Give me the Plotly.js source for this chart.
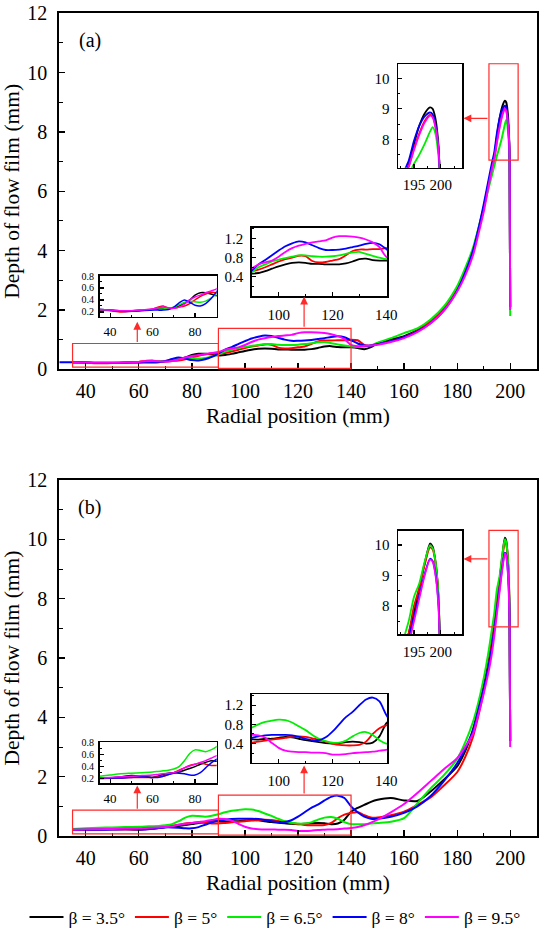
<!DOCTYPE html>
<html>
<head>
<meta charset="utf-8">
<script src="https://cdn.plot.ly/plotly-3.0.1.min.js"></script>
<style>
html,body{margin:0;padding:0;background:#ffffff;}
#chart{width:550px;height:936px;}
</style>
</head>
<body>
<div id="chart"></div>
<script>
// ---------------- DATA ----------------
const radialPosition = [30, 35, 40, 45, 50, 55, 60, 62.5, 65, 67.5, 70, 72.5, 75, 77.5, 80, 82.5, 85, 87.5, 90,
  92.5, 95, 97.5, 100, 102.5, 105, 107.5, 110, 112.5, 115, 117.5, 120, 122.5, 125, 127.5, 130, 132.5, 135, 137.5, 140,
  142.5, 145, 147.5, 150, 155, 160, 165, 170, 175, 180, 183, 186, 188, 190, 192, 193, 194,
  195, 196, 197, 198, 198.5, 199, 199.5, 199.8, 200];

const seriesNames = ['β = 3.5°', 'β = 5°', 'β = 6.5°', 'β = 8°', 'β = 9.5°'];

// Panel (a)
const depthA_b35 = [null, 0.24,0.23,0.22,0.22,0.23,0.24, 0.25,0.26,0.26,0.27,0.30,0.34,0.40,0.48,0.52,0.52,0.50,0.47,
  0.48,0.52,0.57,0.62,0.66,0.69,0.70,0.69,0.67,0.67,0.66,0.66,0.66,0.68,0.72,0.77,0.78,0.75,0.74,0.74,
  0.72,0.68,0.75,0.88, 1.00,1.12,1.32,1.62,2.02,2.68, 3.25,4.00,4.70,5.45,6.35,6.75,7.15,
  7.85,8.45,8.85,9.05, 9.00,8.70,8.00,7.00,2.10];
const depthA_b5 = [null, 0.23,0.22,0.20,0.21,0.23,0.25, 0.28,0.30,0.26,0.26,0.28,0.30,0.34,0.40,0.46,0.50,0.53,0.52,
  0.55,0.60,0.66,0.72,0.77,0.80,0.84,0.83,0.73,0.70,0.71,0.74,0.77,0.85,0.94,0.97,0.97,0.98,0.98,1.00,
  0.98,0.82,0.80,0.85, 0.95,1.08,1.30,1.62,2.05,2.70, 3.25,3.95,4.65,5.40,6.30,6.70,7.10,
  7.70,8.20,8.60,8.80, 8.75,8.45,7.85,6.95,2.10];
const depthA_b65 = [null, 0.24,0.23,0.22,0.22,0.23,0.24, 0.25,0.25,0.26,0.28,0.32,0.36,0.38,0.37,0.36,0.38,0.43,0.50,
  0.60,0.66,0.72,0.76,0.79,0.82,0.85,0.85,0.83,0.82,0.82,0.83,0.85,0.88,0.91,0.92,0.88,0.84,0.80,0.77,
  0.76,0.76,0.80,0.90, 1.05,1.22,1.38,1.68,2.12,2.80, 3.40,4.10,4.75,5.45,6.15,6.50,6.85,
  7.20,7.50,7.85,8.25, 8.40,8.20,7.60,6.80,1.80];
const depthA_b8 = [0.24, 0.24,0.23,0.21,0.21,0.22,0.23, 0.23,0.23,0.24,0.28,0.35,0.40,0.36,0.31,0.30,0.34,0.42,0.53,
  0.66,0.75,0.85,0.95,1.04,1.10,1.14,1.12,1.06,1.00,0.96,0.96,0.97,0.99,1.02,1.05,1.09,1.11,1.08,0.98,
  0.87,0.80,0.80,0.85, 0.95,1.08,1.28,1.55,1.98,2.65, 3.25,4.00,4.72,5.55,6.45,6.90,7.30,
  7.95,8.45,8.75,8.88, 8.82,8.50,7.90,6.95,2.10];
const depthA_b95 = [null, 0.24,0.23,0.22,0.22,0.23,0.25, 0.27,0.28,0.27,0.26,0.28,0.33,0.40,0.45,0.48,0.52,0.55,0.58,
  0.66,0.70,0.74,0.82,0.92,1.00,1.05,1.09,1.12,1.14,1.16,1.22,1.25,1.25,1.24,1.22,1.18,1.12,1.02,0.82,
  0.78,0.79,0.80,0.83, 0.92,1.05,1.25,1.55,1.98,2.62, 3.15,3.85,4.55,5.30,6.25,6.70,7.10,
  7.65,8.15,8.55,8.78, 8.72,8.42,7.85,6.95,2.00];

// Panel (b)
const depthB_b35 = [null, 0.20,0.21,0.23,0.25,0.24,0.22, 0.24,0.27,0.29,0.30,0.31,0.34,0.37,0.40,0.44,0.47,0.50,0.49,
  0.48,0.50,0.50,0.52,0.54,0.53,0.50,0.47,0.45,0.43,0.41,0.40,0.41,0.43,0.44,0.43,0.40,0.42,0.55,0.82,
  0.95,1.05,1.15,1.22, 1.28,1.20,1.18,1.50,1.90,2.35, 2.85,3.60,4.30,5.05,5.95,6.50,7.10,
  7.80,8.60,9.40,10.05, 9.95,9.50,8.60,7.20,3.20];
const depthB_b5 = [null, 0.21,0.21,0.21,0.22,0.22,0.22, 0.23,0.24,0.27,0.30,0.34,0.38,0.42,0.44,0.46,0.44,0.42,0.42,
  0.44,0.46,0.48,0.50,0.52,0.54,0.55,0.54,0.51,0.48,0.44,0.40,0.37,0.36,0.36,0.37,0.44,0.60,0.72,0.78,
  0.80,0.70,0.62,0.62, 0.70,0.82,1.05,1.30,1.70,2.15, 2.65,3.35,4.05,4.85,5.85,6.45,7.10,
  8.00,8.60,9.35,9.92, 9.85,9.45,8.55,7.15,3.20];
const depthB_b65 = [null, 0.24,0.26,0.28,0.29,0.30,0.31, 0.32,0.33,0.34,0.36,0.40,0.50,0.62,0.68,0.67,0.65,0.68,0.73,
  0.80,0.85,0.88,0.90,0.89,0.84,0.76,0.68,0.58,0.50,0.45,0.42,0.42,0.46,0.55,0.62,0.64,0.58,0.47,0.40,
  0.40,0.40,0.42,0.44, 0.48,0.60,1.10,1.60,2.05,2.60, 3.15,3.85,4.50,5.30,6.30,6.90,7.50,
  8.30,8.75,9.45,10.00, 9.90,9.50,8.60,7.20,3.20];
const depthB_b8 = [null, 0.21,0.21,0.21,0.22,0.23,0.22, 0.22,0.24,0.27,0.29,0.29,0.28,0.26,0.26,0.30,0.38,0.46,0.52,
  0.55,0.57,0.58,0.58,0.58,0.57,0.54,0.50,0.47,0.47,0.53,0.65,0.80,0.95,1.06,1.20,1.32,1.36,1.28,1.00,
  0.80,0.65,0.58,0.58, 0.65,0.78,1.00,1.35,1.85,2.45, 2.95,3.55,4.25,4.95,5.80,6.30,6.95,
  7.65,8.35,9.05,9.55, 9.48,9.10,8.30,7.10,3.20];
const depthB_b95 = [null, 0.21,0.22,0.23,0.24,0.25,0.26, 0.27,0.28,0.29,0.30,0.33,0.38,0.41,0.44,0.47,0.50,0.54,0.58,
  0.57,0.52,0.41,0.31,0.25,0.23,0.22,0.22,0.21,0.21,0.20,0.17,0.17,0.18,0.20,0.21,0.22,0.23,0.25,0.27,
  0.30,0.36,0.45,0.55, 0.80,1.08,1.45,1.85,2.25,2.62, 3.00,3.45,4.10,4.80,5.60,6.10,6.75,
  7.50,8.25,9.00,9.52, 9.45,9.05,8.20,7.00,3.00];

// tick labels
const mainXTicks = [40, 60, 80, 100, 120, 140, 160, 180, 200];
const mainYTicks = [0, 2, 4, 6, 8, 10, 12];
const inset1XTicks = [40, 60, 80];
const inset1YTicks = [0.2, 0.4, 0.6, 0.8];
const inset2XTicks = [100, 120, 140];
const inset2YTicks = [0.4, 0.8, 1.2];
const inset3XTicks = [195, 200];
const inset3YTicks = [8, 9, 10];

// ---------------- STYLE / LAYOUT ----------------
const W = 550, H = 936;
const FONT = 'Liberation Serif';
const colors = ['#000000', '#ff0000', '#00ee00', '#0000ff', '#ff00ff'];
const panelA = [depthA_b35, depthA_b5, depthA_b65, depthA_b8, depthA_b95];
const panelB = [depthB_b35, depthB_b5, depthB_b65, depthB_b8, depthB_b95];

function domX(l, r) { return [l / W, r / W]; }
function domY(t, b) { return [1 - b / H, 1 - t / H]; }

const shiftB = 466.7;
const boxes = {
  main: {l: 59.3, r: 536.7, t: 13.3, b: 369.3},
  in1: {l: 99.5, r: 216.7, t: 275.7, b: 316.7},
  in2: {l: 251.8, r: 387, t: 227.5, b: 296},
  in3: {l: 398, r: 462, t: 64, b: 167.7}
};

const traces = [];
const layout = {
  width: W, height: H,
  margin: {l: 0, r: 0, t: 0, b: 0},
  paper_bgcolor: '#ffffff',
  plot_bgcolor: 'rgba(0,0,0,0)',
  font: {family: FONT, color: '#000000', size: 16},
  showlegend: true,
  legend: {
    orientation: 'h', x: 0.5, xanchor: 'center', y: 1 - 917 / H, yanchor: 'middle',
    font: {family: FONT, size: 17.5, color: '#000'}, bgcolor: 'rgba(0,0,0,0)',
    itemwidth: 34, traceorder: 'normal'
  },
  shapes: [], annotations: []
};

function axisBase(extra) {
  return Object.assign({
    showline: true, linecolor: '#000', mirror: true, showgrid: false, zeroline: false,
    ticks: 'inside', tickcolor: '#000', fixedrange: true
  }, extra);
}

function buildPanel(data, axOffset, dy, label, firstPanel) {
  const ids = [axOffset + 1, axOffset + 2, axOffset + 3, axOffset + 4];
  const nm = i => (i === 1 ? '' : String(i));
  const configs = [
    {box: boxes.main, xr: [30, 210], yr: [0, 12], xt: mainXTicks, yt: mainYTicks, xm: 10, ym: 1,
     fs: 20, yfs: 20, lw: 2, tl: 6, ml: 3.5, lwid: 2, xs: 3, ys: 6},
    {box: boxes.in1, xr: [35, 90.2], yr: [0.12, 0.805], xt: inset1XTicks, yt: inset1YTicks, xm: 10, ym: 0.1,
     fs: 13, yfs: 10, lw: 1.5, tl: 4, ml: 2, lwid: 1.5, xs: 2, ys: 2},
    {box: boxes.in2, xr: [90, 140.3], yr: [0, 1.43], xt: inset2XTicks, yt: inset2YTicks, xm: 10, ym: 0.2,
     fs: 15, yfs: 15, lw: 1.8, tl: 4, ml: 2, lwid: 1.5, xs: 4, ys: 4},
    {box: boxes.in3, xr: [192, 204], yr: [7.07, 10.47], xt: inset3XTicks, yt: inset3YTicks, xm: 2.5, ym: 0.5,
     fs: 15, yfs: 15, lw: 1.8, tl: 4, ml: 2, lwid: 1.5, xs: 3, ys: 4}
  ];
  configs.forEach((c, k) => {
    const id = ids[k];
    const b = c.box;
    const xa = axisBase({
      domain: domX(b.l, b.r), range: c.xr, anchor: 'y' + nm(id),
      tickvals: c.xt, ticklen: c.tl, tickwidth: 1.2, linewidth: c.lwid,
      tickfont: {family: FONT, size: c.fs, color: '#000'}, ticklabelstandoff: c.xs,
      minor: {ticks: 'inside', dtick: c.xm, tick0: 0, ticklen: c.ml, tickwidth: 1, tickcolor: '#000', showgrid: false}
    });
    const ya = axisBase({
      domain: domY(b.t + dy, b.b + dy), range: c.yr, anchor: 'x' + nm(id),
      tickvals: c.yt, ticklen: c.tl, tickwidth: 1.2, linewidth: c.lwid,
      tickfont: {family: FONT, size: c.yfs, color: '#000'}, ticklabelstandoff: c.ys,
      minor: {ticks: 'inside', dtick: c.ym, tick0: 0, ticklen: c.ml, tickwidth: 1, tickcolor: '#000', showgrid: false}
    });
    if (k === 0) {
      xa.title = {text: 'Radial position (mm)', font: {family: FONT, size: 21.5, color: '#000'}, standoff: 7};
      ya.title = {text: 'Depth of flow film (mm)', font: {family: FONT, size: 21.5, color: '#000'}, standoff: 3};
    }
    layout['xaxis' + nm(id)] = xa;
    layout['yaxis' + nm(id)] = ya;
    data.forEach((series, s) => {
      traces.push({
        type: 'scatter', mode: 'lines', x: radialPosition, y: series,
        name: seriesNames[s], legendgroup: 'g' + s,
        showlegend: firstPanel && k === 0,
        line: {color: colors[s], width: c.lw, shape: 'spline', smoothing: 0.7},
        xaxis: 'x' + nm(id), yaxis: 'y' + nm(id), hoverinfo: 'skip'
      });
    });
  });

  const mx = 'x' + nm(ids[0]), my = 'y' + nm(ids[0]);
  const rects = [[35, 90, 0.07, 0.87], [90, 140, 0.03, 1.38], [192, 203, 7.05, 10.3]];
  rects.forEach(r => layout.shapes.push({
    type: 'rect', xref: mx, yref: my, x0: r[0], x1: r[1], y0: r[2], y1: r[3],
    line: {color: '#ff2a2a', width: 1.2}, fillcolor: 'rgba(0,0,0,0)'
  }));
  const arrows = firstPanel
    ? [[59.4, 1.60, 59.4, 0.87], [122.3, 2.45, 122.3, 1.38], [182.4, 8.46, 192, 8.46]]
    : [[59.4, 1.70, 59.4, 0.87], [122.3, 2.38, 122.3, 1.38], [182.4, 9.34, 192, 9.34]];
  arrows.forEach(a => layout.annotations.push({
    xref: mx, yref: my, axref: mx, ayref: my, x: a[0], y: a[1], ax: a[2], ay: a[3],
    text: '', showarrow: true, arrowhead: 2, arrowsize: 1.3, arrowwidth: 1.2, arrowcolor: '#ff2a2a', standoff: 0
  }));
  layout.annotations.push({
    xref: 'paper', yref: 'paper', x: 89.5 / W, y: 1 - (41 + dy) / H, xanchor: 'center', yanchor: 'middle',
    text: label, showarrow: false, font: {family: FONT, size: 20, color: '#000'}
  });
}

buildPanel(panelA, 0, 0, '(a)', true);
buildPanel(panelB, 4, shiftB, '(b)', false);

Plotly.newPlot('chart', traces, layout, {displayModeBar: false, staticPlot: true});
</script>
</body>
</html>
